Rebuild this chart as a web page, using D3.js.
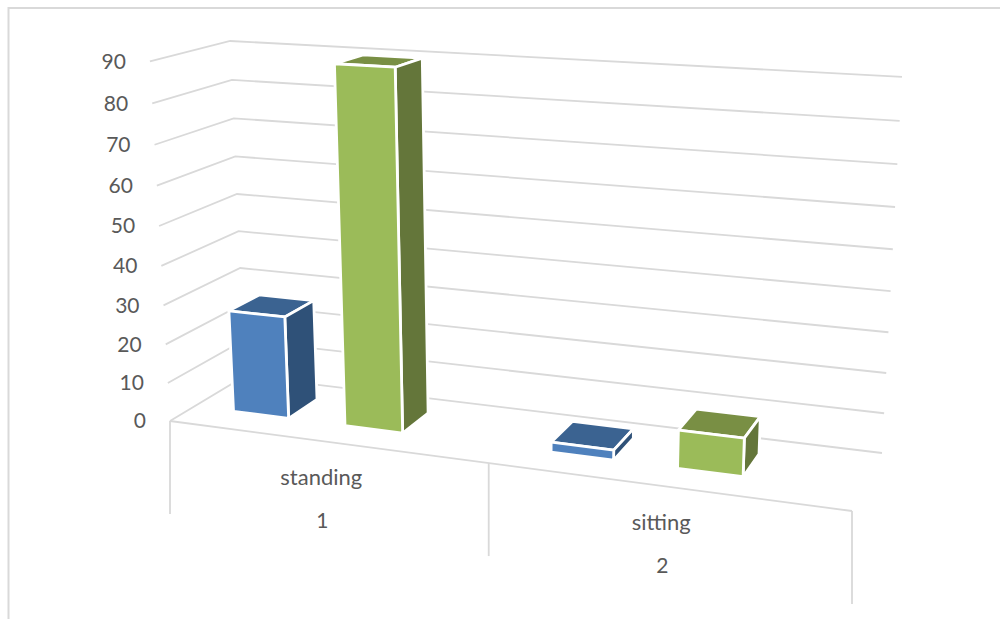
<!DOCTYPE html>
<html>
<head>
<meta charset="utf-8">
<script src="https://d3js.org/d3.v7.min.js"></script>
<style>
html,body{margin:0;padding:0;background:#fff;overflow:hidden}
text{font-family:Lato,"Open Sans",sans-serif;fill:#595959}
</style>
</head>
<body>
<svg id="chart" width="1000" height="619"></svg>
<script>
// ---- data ----
const categories = ["standing", "sitting"];
const categoryNumbers = ["1", "2"];
const seriesNames = ["A", "B"];
const seriesA = [26.5, 2.5];
const seriesB = [90, 9.4];
const yTicks = [0, 10, 20, 30, 40, 50, 60, 70, 80, 90];
const yMax = 90;

// ---- scene: perspective camera calibrated on the box corners ----
const floorFL = [170, 421], floorFR = [852, 511], floorBR = [882, 453], floorBL = [245, 376];
const vanish = [536, 6968];   // vertical vanishing point
const backTopY = 41;

const colors = {
  A: {front: "#4F81BD", side: "#2F5178", top: "#3B6391"},
  B: {front: "#9BBB59", side: "#64763A", top: "#798F44"}
};
const gridColor = "#D9D9D9";

const [x0, y0] = floorFL, [x1, y1] = floorFR, [x2, y2] = floorBR, [x3, y3] = floorBL;
const sx = x0 - x1 + x2 - x3, sy = y0 - y1 + y2 - y3;
const dx1 = x1 - x2, dx2 = x3 - x2, dy1 = y1 - y2, dy2 = y3 - y2;
const det = dx1 * dy2 - dx2 * dy1;
const g = (sx * dy2 - dx2 * sy) / det, h = (dx1 * sy - sx * dy1) / det;
const a = x1 - x0 + g * x1, b = x3 - x0 + h * x3;
const c = y1 - y0 + g * y1, e = y3 - y0 + h * y3;
// calibrate height so that the top of the axis lands on backTopY at the back-left corner
const wBL = 1 + h;
const k = (backTopY * wBL - y3 * wBL) / (vanish[1] - backTopY);

const vScale = d3.scaleLinear().domain([0, yMax]).range([0, 1]);
function project(u, d, value) {
  const w = g * u + h * d + 1, t = vScale(value) * k;
  return [
    (a * u + b * d + x0 + t * vanish[0]) / (w + t),
    (c * u + e * d + y0 + t * vanish[1]) / (w + t)
  ];
}

const uScale = d3.scaleBand().domain(categories).range([0, 1]);
const seriesScale = d3.scaleBand().domain(seriesNames)
  .range([0.132, 0.68]).paddingInner(0.5).paddingOuter(0);
const depth = d3.scaleLinear().domain([0, 1]).range([0.31, 0.72]);

const svg = d3.select("#chart");
const line = d3.line();

// outer frame
svg.append("rect").attr("x", 8.5).attr("y", 8).attr("width", 1200).attr("height", 800)
  .attr("fill", "#fff").attr("stroke", gridColor).attr("stroke-width", 2);

// gridlines on side wall and back wall
svg.append("g").selectAll("path").data(yTicks).join("path")
  .attr("d", v => line([project(0, 0, v), project(0, 1, v), project(1, 1, v)]))
  .attr("fill", "none").attr("stroke", gridColor).attr("stroke-width", 1.8);

// floor front edge + category separators
svg.append("path").attr("d", line([project(0, 0, 0), project(1, 0, 0)]))
  .attr("fill", "none").attr("stroke", gridColor).attr("stroke-width", 1.8);
const dropLen = 93;
svg.append("g").selectAll("path").data([0, 0.5, 1]).join("path")
  .attr("d", u => {
    const p = project(u, 0, 0);
    return line([p, [p[0], p[1] + dropLen]]);
  })
  .attr("fill", "none").attr("stroke", gridColor).attr("stroke-width", 1.8);

// bars
const rows = [];
seriesNames.forEach((s, si) => {
  const vals = si === 0 ? seriesA : seriesB;
  categories.forEach((cat, ci) => rows.push({s, cat, value: vals[ci]}));
});
const bars = svg.append("g").selectAll("g").data(rows).join("g");
function uOf(d, frac) {
  return uScale(d.cat) + uScale.bandwidth() * (seriesScale(d.s) + seriesScale.bandwidth() * frac);
}
function face(sel, name, fn) {
  sel.append("path").attr("d", d => line(fn(d)) + "Z")
    .attr("fill", d => colors[d.s][name])
    .attr("stroke", "#fff").attr("stroke-width", 2.8).attr("stroke-linejoin", "round");
}
const df = depth(0), db = depth(1);
face(bars, "top", d => [
  project(uOf(d, 0), df, d.value), project(uOf(d, 1), df, d.value),
  project(uOf(d, 1), db, d.value), project(uOf(d, 0), db, d.value)]);
face(bars, "side", d => [
  project(uOf(d, 1), df, 0), project(uOf(d, 1), db, 0),
  project(uOf(d, 1), db, d.value), project(uOf(d, 1), df, d.value)]);
face(bars, "front", d => [
  project(uOf(d, 0), df, 0), project(uOf(d, 1), df, 0),
  project(uOf(d, 1), df, d.value), project(uOf(d, 0), df, d.value)]);

// y tick labels
svg.append("g").selectAll("text").data(yTicks).join("text")
  .text(v => v)
  .attr("x", v => project(0, 0, v)[0] - 24)
  .attr("y", v => project(0, 0, v)[1])
  .attr("dy", "0.35em").attr("text-anchor", "end").attr("font-size", 21);

// category labels
categories.forEach((cat, i) => {
  const p = project(uScale(cat) + uScale.bandwidth() / 2, 0, 0);
  svg.append("text").text(cat).attr("x", p[0] - 3).attr("y", p[1] + 44)
    .attr("text-anchor", "middle").attr("font-size", 22);
  svg.append("text").text(categoryNumbers[i]).attr("x", p[0] - 2).attr("y", p[1] + 87)
    .attr("text-anchor", "middle").attr("font-size", 21);
});
</script>
</body>
</html>
